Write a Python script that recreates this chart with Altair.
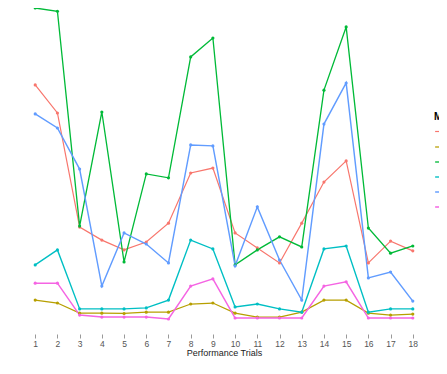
import altair as alt
import pandas as pd

trials = list(range(1, 19))
series_names = ["A", "B", "C", "D", "E", "F"]
colors = ["#F8766D", "#B79F00", "#00BA38", "#00BFC4", "#619CFF", "#F564E3"]

red_vals = [76.4, 67.8, 32.8, 28.8, 25.8, 28.2, 34.0, 49.4, 50.9, 31.0, 26.4, 21.8, 34.0, 46.6, 53.1, 21.8, 28.5, 25.5]
olive_vals = [10.4, 9.5, 6.4, 6.4, 6.3, 6.7, 6.7, 9.2, 9.5, 6.4, 5.2, 5.2, 6.7, 10.4, 10.4, 6.4, 5.8, 6.1]
green_vals = [100.0, 99.0, 33.1, 68.1, 22.1, 49.1, 47.9, 85.0, 90.8, 21.2, 25.8, 29.8, 26.7, 74.8, 94.2, 32.5, 24.8, 27.0]
teal_vals = [21.2, 25.8, 7.7, 7.7, 7.7, 8.0, 10.4, 28.8, 26.1, 8.3, 9.2, 7.7, 6.7, 26.1, 27.0, 6.7, 7.7, 7.7]
blue_vals = [67.5, 63.2, 50.6, 14.7, 31.0, 27.6, 21.8, 58.0, 57.7, 20.9, 39.0, 22.7, 10.4, 64.4, 77.0, 17.2, 19.0, 10.1]
pink_vals = [15.6, 15.6, 5.8, 5.2, 5.2, 5.2, 4.6, 14.7, 16.9, 4.9, 4.9, 4.9, 4.9, 14.7, 16.0, 4.9, 4.9, 4.9]

all_vals = [red_vals, olive_vals, green_vals, teal_vals, blue_vals, pink_vals]
widths = [1.2, 1.5, 2.0, 2.0, 1.5, 1.2]

rows = []
for name, vals in zip(series_names, all_vals):
    for t, v in zip(trials, vals):
        rows.append({"trial": t, "value": v, "series": name})
df = pd.DataFrame(rows)

x_enc = alt.X("trial:Q", title="Performance Trials",
              scale=alt.Scale(domain=[0, 19], nice=False, zero=False),
              axis=alt.Axis(values=trials, grid=False, domain=False, tickColor="#999999",
                            tickSize=4, labelColor="#555555", labelFontSize=8.5,
                            labelFont="Liberation Sans", titleFont="Liberation Sans",
                            titleFontSize=9, titleFontWeight="normal", titleColor="#222222",
                            labelPadding=1, titlePadding=1))
y_enc = alt.Y("value:Q", scale=alt.Scale(domain=[0, 100], nice=False, zero=False), axis=None)
color_enc = alt.Color("series:N", scale=alt.Scale(domain=series_names, range=colors),
                      legend=alt.Legend(title="Method", orient="none", legendX=421, legendY=104,
                                        titleFont="Liberation Sans", labelFont="Liberation Sans",
                                        titleFontSize=10, labelFontSize=9, symbolType="stroke",
                                        symbolSize=60, rowPadding=5))

base = alt.Chart(df).encode(x=x_enc, y=y_enc, color=color_enc)
lines = base.mark_line().encode(
    strokeWidth=alt.StrokeWidth("series:N", scale=alt.Scale(domain=series_names, range=widths), legend=None)
)
points = base.mark_circle(size=10, opacity=1)

chart = (lines + points).properties(
    width=422, height=326,
    autosize=alt.AutoSizeParams(type="none"),
    padding={"left": 5, "top": 0, "right": 4, "bottom": 32},
).configure_view(stroke=None)

chart.save("out.html", embed_options={"renderer": "svg", "actions": False})
